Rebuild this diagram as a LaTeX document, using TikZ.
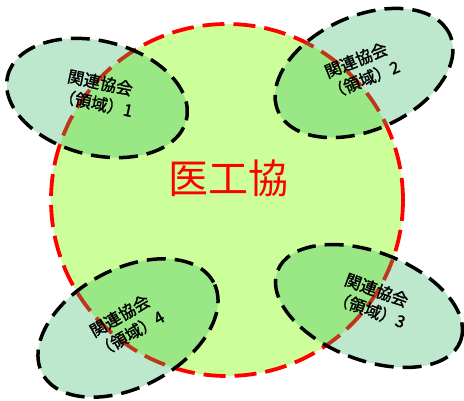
\documentclass[tikz,border=0pt]{standalone}
\usepackage{fontspec}
\newfontfamily\jp{Noto Sans CJK JP}
\newfontfamily\jpb[FakeBold=1.5]{Noto Sans CJK JP}
\definecolor{limefill}{RGB}{204,255,153}
\definecolor{zonegreen}{RGB}{40,180,90}
\definecolor{ringred}{RGB}{255,0,0}
\begin{document}
\begin{tikzpicture}[x=1pt,y=-1pt,
  zone/.style={draw=black, line width=3.5pt, dash pattern=on 19pt off 9pt, fill=zonegreen, fill opacity=0.3},
  zonelabel/.style={font=\jpb\fontsize{16.5}{21}\selectfont, align=center, text=black, inner sep=0pt},
  ring/.style={draw=ringred, line width=3.8pt, dash pattern=on 22pt off 9pt}]
\useasboundingbox (0,0) rectangle (464,401);
% big circle
\fill[limefill] (227,200) circle (176pt);
\draw[ring] (227,200) circle (176pt);
% zones
\draw[zone, rotate around={-14:(97,98)}] (97,98) ellipse [x radius=92pt, y radius=57pt];
\draw[zone, rotate around={24:(364,73)}] (364,73) ellipse [x radius=94pt, y radius=57pt];
\draw[zone, rotate around={-21:(369,306)}] (369,306) ellipse [x radius=98pt, y radius=54pt];
\draw[zone, rotate around={28:(128,328)}] (128,328) ellipse [x radius=97pt, y radius=59pt];
% labels
\node[text=ringred, font=\jp\fontsize{40}{40}\selectfont, inner sep=0pt] (title) at (228,178) {医工協};
\node[zonelabel, rotate=-12] (l1) at (98,93) {関連協会\\（領域）1};
\node[zonelabel, rotate=22] (l2) at (360,70) {関連協会\\（領域）2};
\node[zonelabel, rotate=-20] (l3) at (373,300) {関連協会\\（領域）3};
\node[zonelabel, rotate=30] (l4) at (125,325) {関連協会\\（領域）4};
\end{tikzpicture}
\end{document}
